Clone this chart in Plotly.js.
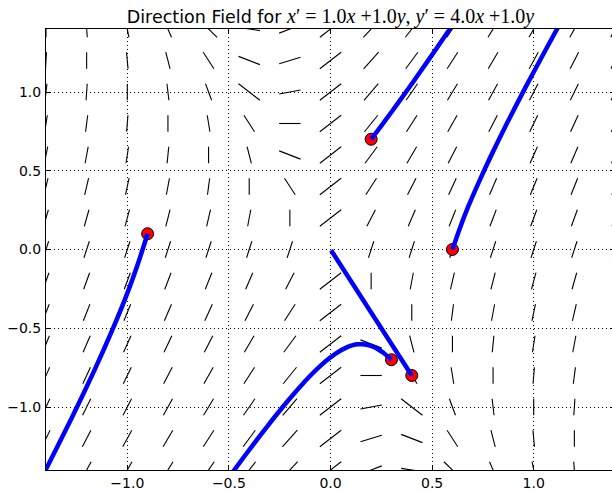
<!DOCTYPE html>
<html>
<head>
<meta charset="utf-8">
<script src="https://cdn.plot.ly/plotly-3.0.1.min.js"></script>
<style>
html,body{margin:0;padding:0;overflow:hidden;background:#fff;}
#chart{width:700px;height:490px;}
</style>
</head>
<body>
<div id="chart"></div>
<script>
// ODE: x' = a1*x + b1*y ; y' = a2*x + b2*y
const xPrimeCoef = [1.0, 1.0];
const yPrimeCoef = [4.0, 1.0];

// direction-field grid
const gridX = [-1.4,-1.2,-1.0,-0.8,-0.6,-0.4,-0.2,0.0,0.2,0.4,0.6,0.8,1.0,1.2,1.4];
const gridY = [-1.4,-1.2,-1.0,-0.8,-0.6,-0.4,-0.2,0.0,0.2,0.4,0.6,0.8,1.0,1.2,1.4];

// initial points
const startX = [-0.9, 0.2, 0.6, 0.3, 0.4];
const startY = [ 0.1, 0.7, 0.0, -0.7, -0.8];

// solution curves
const curve1X = [-0.9, -0.946, -1.003, -1.075, -1.163, -1.270, -1.397, -1.455];
const curve1Y = [ 0.1, -0.084, -0.288, -0.515, -0.771, -1.060, -1.387, -1.530];
const curve2X = [0.2, 0.248, 0.303, 0.367, 0.440, 0.524, 0.621];
const curve2Y = [0.7, 0.782, 0.878, 0.992, 1.125, 1.281, 1.464];
const curve3X = [0.6, 0.634, 0.676, 0.729, 0.792, 0.869, 0.960, 1.069, 1.143];
const curve3Y = [0.0, 0.126, 0.267, 0.425, 0.602, 0.803, 1.031, 1.292, 1.466];
const curve4X = [0.3, 0.260, 0.221, 0.179, 0.158, 0.135, 0.111, 0.085, 0.027, -0.006, -0.043, -0.084, -0.130, -0.181, -0.240, -0.307, -0.383, -0.470, -0.570];
const curve4Y = [-0.7, -0.656, -0.623, -0.605, -0.601, -0.602, -0.607, -0.618, -0.659, -0.691, -0.731, -0.781, -0.843, -0.918, -1.008, -1.116, -1.243, -1.394, -1.572];
const curve5X = [0.4, 0.2, 0.003];
const curve5Y = [-0.8, -0.4, -0.005];

const segHalf = 0.0525;

const segX = [], segY = [];
for (const y of gridY) {
  for (const x of gridX) {
    const u = xPrimeCoef[0]*x + xPrimeCoef[1]*y;
    const v = yPrimeCoef[0]*x + yPrimeCoef[1]*y;
    const m = Math.max(Math.abs(u), Math.abs(v));
    if (m < 1e-9) continue;
    const dx = segHalf*u/m, dy = segHalf*v/m;
    segX.push(x-dx, x+dx, null);
    segY.push(y-dy, y+dy, null);
  }
}

const traces = [
  {x: segX, y: segY, type:'scatter', mode:'lines', line:{color:'#000', width:1.1}, hoverinfo:'skip', connectgaps:false},
  {x: startX, y: startY, type:'scatter', mode:'markers', marker:{color:'#ff0000', size:12, line:{color:'#000', width:1}}, hoverinfo:'skip'}
];
const curves = [[curve1X,curve1Y],[curve2X,curve2Y],[curve3X,curve3Y],[curve4X,curve4Y],[curve5X,curve5Y]];
for (const [cx, cy] of curves) {
  traces.push({x: cx, y: cy, type:'scatter', mode:'lines', line:{color:'#0000ff', width:4.5, shape:'spline', smoothing:0.6}, hoverinfo:'skip'});
}

const axisCommon = {
  range:[-1.4, 1.4], tick0:0, dtick:0.5, tickformat:'.1f',
  showgrid:true, gridcolor:'#000', gridwidth:1, griddash:'1px,3px',
  zeroline:false, showline:true, linecolor:'#000', linewidth:1, mirror:'ticks',
  ticks:'inside', ticklen:5, tickcolor:'#000', tickwidth:1,
  tickfont:{family:'DejaVu Sans', size:14, color:'#000'}
};

const layout = {
  width:700, height:490,
  margin:{l:46, r:85, t:29, b:20},
  paper_bgcolor:'#fff', plot_bgcolor:'#fff',
  showlegend:false,
  title:{
    text:'Direction Field for <span style="font-family:Liberation Serif;font-size:20px"><i>x</i>′ = 1.0<i>x</i> +1.0<i>y</i>, <i>y</i>′ = 4.0<i>x</i> +1.0<i>y</i></span>',
    font:{family:'DejaVu Sans', size:17.5, color:'#000'},
    x:0.5, xref:'paper', xanchor:'center',
    y:1-17/490, yref:'container', yanchor:'middle'
  },
  xaxis: Object.assign({}, axisCommon, {ticklabelstandoff:0}),
  yaxis: Object.assign({}, axisCommon, {ticklabelstandoff:1})
};

Plotly.newPlot('chart', traces, layout, {staticPlot:true, displayModeBar:false});
</script>
</body>
</html>
